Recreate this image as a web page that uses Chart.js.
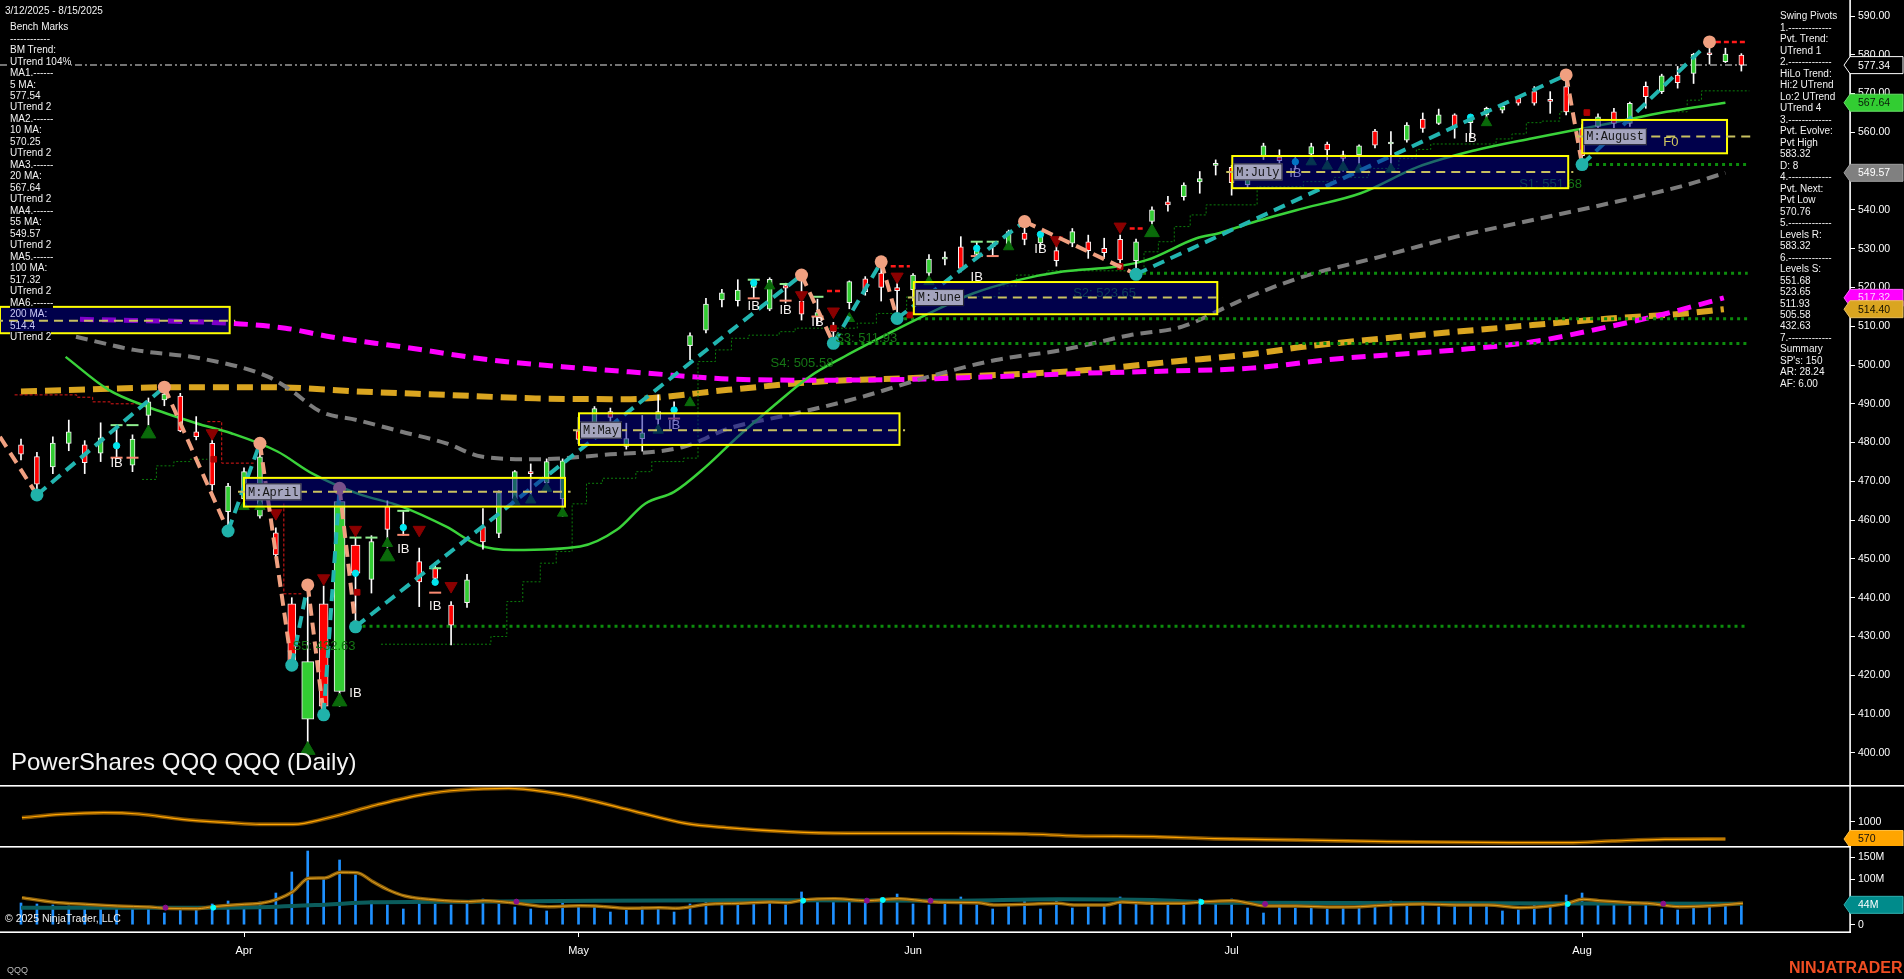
<!DOCTYPE html>
<html><head><meta charset="utf-8">
<script src="https://cdn.jsdelivr.net/npm/chart.js@4.4.1/dist/chart.umd.min.js"></script>
<style>
html,body{margin:0;padding:0;background:#000;width:1904px;height:979px;overflow:hidden;}
canvas{position:absolute;left:0;display:block;}
.pnl{position:absolute;font-family:Arial,"Liberation Sans",sans-serif;font-size:10px;line-height:11.48px;color:#f2f2f2;white-space:pre;}
.pnl div span{background:#000;}
.pnl div.inbox span{background:transparent;color:#c8c8f4;}
#title{position:absolute;left:11px;top:750px;font:24px/24px Arial,"Liberation Sans",sans-serif;color:#f4f4f4;white-space:pre;}
#copy{position:absolute;left:5px;top:912px;font:10.5px/12px Arial,"Liberation Sans",sans-serif;color:#f0f0f0;white-space:pre;}
#sym{position:absolute;left:7px;top:965px;font:9px/10px Arial,"Liberation Sans",sans-serif;color:#bdbdbd;}
#logo{position:absolute;left:1789px;top:960px;font:bold 16px/16px Arial,"Liberation Sans",sans-serif;color:#f04e23;white-space:pre;}
</style></head><body>
<canvas id="cp" width="1904" height="785" style="top:0;width:1904px;height:785px"></canvas>
<canvas id="co" width="1904" height="61" style="top:785px;width:1904px;height:61px"></canvas>
<canvas id="cv" width="1904" height="133" style="top:846px;width:1904px;height:133px"></canvas>
<div class="pnl" id="dateTitle" style="left:5px;top:5.4px"></div>
<div class="pnl" id="leftPanel" style="left:10px;top:21.1px"></div>
<div class="pnl" id="rightPanel" style="left:1780px;top:10.4px"></div>
<div id="title">PowerShares QQQ QQQ (Daily)</div>
<div id="copy">© 2025 NinjaTrader, LLC</div>
<div id="sym">QQQ</div>
<div id="logo">NINJATRADER</div>
<script>
// ---------------- DATA ----------------
const dates = ['2025-03-12','2025-03-13','2025-03-14','2025-03-17','2025-03-18','2025-03-19','2025-03-20','2025-03-21','2025-03-24','2025-03-25','2025-03-26','2025-03-27','2025-03-28','2025-03-31',
'2025-04-01','2025-04-02','2025-04-03','2025-04-04','2025-04-07','2025-04-08','2025-04-09','2025-04-10','2025-04-11','2025-04-14','2025-04-15','2025-04-16','2025-04-17','2025-04-21','2025-04-22','2025-04-23','2025-04-24','2025-04-25','2025-04-28','2025-04-29','2025-04-30',
'2025-05-01','2025-05-02','2025-05-05','2025-05-06','2025-05-07','2025-05-08','2025-05-09','2025-05-12','2025-05-13','2025-05-14','2025-05-15','2025-05-16','2025-05-19','2025-05-20','2025-05-21','2025-05-22','2025-05-23','2025-05-27','2025-05-28','2025-05-29','2025-05-30',
'2025-06-02','2025-06-03','2025-06-04','2025-06-05','2025-06-06','2025-06-09','2025-06-10','2025-06-11','2025-06-12','2025-06-13','2025-06-16','2025-06-17','2025-06-18','2025-06-20','2025-06-23','2025-06-24','2025-06-25','2025-06-26','2025-06-27','2025-06-30',
'2025-07-01','2025-07-02','2025-07-03','2025-07-07','2025-07-08','2025-07-09','2025-07-10','2025-07-11','2025-07-14','2025-07-15','2025-07-16','2025-07-17','2025-07-18','2025-07-21','2025-07-22','2025-07-23','2025-07-24','2025-07-25','2025-07-28','2025-07-29','2025-07-30','2025-07-31',
'2025-08-01','2025-08-04','2025-08-05','2025-08-06','2025-08-07','2025-08-08','2025-08-11','2025-08-12','2025-08-13','2025-08-14','2025-08-15'];

const opens  = [479.4,476.4,473.7,479.8,479.4,477.3,479.5,474.2,487.0,491.0,492.0,482.8,479.8,462.2,
465.5,461.0,456.7,438.4,408.7,438.4,415.8,453.6,444.7,463.5,458.5,449.3,447.7,438.1,438.7,458.3,456.6,465.5,472.5,469.6,465.5,
483.0,484.0,488.0,479.0,481.0,486.0,488.5,505.0,509.0,516.8,516.6,520.0,514.4,520.5,516.5,512.5,509.9,516.1,522.2,523.7,520.0,
519.4,523.7,527.3,530.5,528.5,530.5,530.9,534.0,531.5,529.5,531.4,531.8,530.1,532.4,526.9,537.0,542.1,543.4,547.2,551.5,
551.0,546.5,553.7,553.6,552.5,554.4,557.0,554.2,554.2,560.3,557.0,558.0,563.4,562.3,564.5,562.5,564.5,565.7,568.8,570.5,568.5,571.8,
561.0,561.5,565.3,562.3,571.9,570.5,574.8,575.2,580.4,578.2,579.9];
const highs  = [480.9,477.5,481.5,485.8,480.5,485.1,484.5,482.0,491.5,494.3,492.7,486.7,481.2,469.5,
473.5,479.5,458.0,440.0,443.3,443.0,468.2,455.7,456.0,465.0,462.2,452.8,449.0,439.0,446.0,463.0,467.6,472.8,474.5,475.8,475.8,
486.5,489.3,488.9,485.0,487.0,492.3,490.5,508.3,517.2,519.5,522.0,522.0,522.5,521.1,523.2,517.0,511.0,521.7,522.8,526.6,521.5,
523.6,528.5,529.2,533.1,531.8,531.8,534.8,537.0,534.5,531.8,535.2,533.5,532.7,533.5,532.5,540.8,543.5,547.0,549.9,552.9,
551.5,551.0,557.2,555.5,553.5,557.2,557.5,555.2,556.8,560.8,560.2,562.5,565.0,566.0,564.8,564.5,566.5,567.0,569.2,571.8,570.5,574.8,
562.0,564.8,566.2,567.8,573.0,575.0,577.0,580.4,583.3,581.7,580.3];
const lows   = [475.5,466.5,472.0,477.9,472.0,475.1,476.1,472.5,484.5,489.5,482.8,480.7,467.7,457.2,
464.5,460.5,449.5,422.6,402.4,409.8,412.0,432.5,441.2,453.0,456.1,437.7,443.8,427.8,437.5,452.5,455.5,464.0,466.0,468.6,461.0,
479.7,482.0,485.5,478.3,477.8,484.5,485.5,501.3,508.3,515.0,515.2,517.3,514.0,516.0,511.6,510.5,505.6,514.5,518.0,516.5,512.0,
516.5,522.8,525.8,524.0,528.1,528.1,530.0,531.0,530.0,525.5,530.5,527.5,527.5,525.5,523.4,536.0,539.7,542.5,544.3,549.0,
543.8,545.5,553.0,550.0,550.5,553.0,551.5,550.0,550.5,556.0,551.1,557.5,560.0,562.0,558.5,558.5,563.5,565.0,567.0,567.0,564.9,564.5,
551.7,557.5,559.5,561.5,566.2,570.0,571.4,572.6,577.6,578.0,575.8];
const closes = [477.0,469.3,479.9,482.8,474.8,481.2,478.8,480.9,490.5,492.5,483.0,481.5,469.1,468.8,
472.5,476.3,451.0,423.4,423.5,412.0,464.8,446.3,454.5,457.6,457.8,444.1,445.0,432.9,444.6,454.4,467.1,472.5,472.0,475.1,475.3,
480.8,488.8,486.5,481.0,482.5,488.0,488.3,507.6,515.7,518.6,519.3,521.2,522.1,519.8,513.1,513.5,508.6,521.5,518.9,520.0,519.2,
523.2,527.3,527.8,524.9,529.5,530.7,534.4,532.4,533.7,526.9,534.4,529.5,529.0,527.1,531.8,540.0,541.3,546.4,548.1,551.8,
547.0,550.8,556.5,552.7,552.3,556.3,555.5,553.3,556.5,556.7,557.5,561.9,561.0,564.5,561.5,563.8,566.2,566.7,567.5,567.5,568.0,565.3,
554.0,564.0,562.3,567.5,569.2,574.6,572.8,580.1,580.0,580.2,577.34];
// volume, millions
const volumes = [48.1,45.9,43.7,41.4,40.0,41.4,36.3,40.0,36.3,25.9,36.3,34.0,45.9,52.5,42.2,50.3,70.2,116.8,163.3,102.0,143.4,110.1,52.5,43.7,34.8,50.3,45.9,43.7,51.8,56.9,45.9,39.2,34.8,30.4,48.1,43.7,39.2,28.1,32.6,39.2,39.2,28.1,45.9,54.7,48.1,50.3,48.1,50.3,43.7,72.5,56.9,59.2,56.9,48.1,59.2,68.0,45.9,43.7,52.5,
61.4,43.7,34.8,41.4,54.7,34.8,56.9,37.0,43.7,43.7,61.4,50.3,45.9,48.1,45.9,56.9,45.9,56.9,37.0,25.9,45.9,37.0,43.7,34.8,39.2,37.0,43.7,52.5,41.4,50.3,39.2,43.7,41.4,43.7,30.4,32.6,45.9,41.4,65.8,70.2,48.1,48.1,41.4,45.9,34.8,32.6,43.7,41.4,45.9,44.0];

// moving averages (bar position, value)
const ma20Bars = [2.8,5.5,7.9,11,13.2,16.1,18.3,21.1,23.9,26.7,28.7,30.9,35.1,37.4,39.2,41,43,45,47.2,49.5,51.7,54.5,57,59.8,62.6,65.4,68.8,70.7,73.8,75.2,77.1,80.5,84.1,87.7,91.3,94.9,97.3,99.7,103.3,107];
const ma20Vals = [502.1,493.6,489.3,485,482.4,477.7,472,466.9,463.5,458.3,453.6,452.3,453.2,457.5,464.3,467.3,473.8,481.5,489.3,497,502.2,508.2,513.3,518.5,521.9,524.1,525.4,527.1,532.7,534,536.5,540.4,544.3,551.1,555.4,558.5,560.4,562.3,565.3,567.64];
const ma55Bars = [3.45,7.1,11.3,15.5,16.9,18.8,21.1,23.9,26.7,28.9,32.3,36.5,41.6,44.4,48.6,52.8,57,61.2,65.4,69.6,72.9,75.7,77.1,80.5,85.3,90.1,94.9,99.7,104.5,107];
const ma55Vals = [507.3,503.9,501.7,497,493.6,488,485.8,482.8,479.8,476.4,475.7,476.8,478.9,483.6,487.5,491.8,497,501.3,503.9,507.7,509.9,515,517.6,522.8,527.9,533.1,537.4,541.7,546.4,549.57];
const ma100Bars = [3.7,13.8,16.6,19.4,23.9,29.5,35.1,39.3,44.4,50,55.6,61.2,66.9,72.4,77.2,82.9,90.1,94.9,99.7,103.3,106.9];
const ma100Vals = [511.8,510.6,509.5,507.3,504.7,501.3,499.2,497.9,496.4,496.1,496.3,497,497.9,498.5,499.2,501.7,503.9,506,509.9,513.3,517.32];
const ma200Bars = [0,4.3,9.9,15.5,21.1,26.7,32.3,37.9,44.4,50,55.6,61.2,66.9,72.4,77.2,80.5,87.7,94.9,99.7,104.5,106.9];
const ma200Vals = [493.2,493.7,494.3,494.3,493.2,492.3,491.4,491.2,493.6,495.7,496.6,497.4,498.7,500.9,502.8,504.7,507.7,510.3,512,513.3,514.4];

// trailing step lines
const stepUp1Bars = [7.6,8.5,9.6,10.6,11.7];
const stepUp1Vals = [470.5,474,475.1,475.7,475.7];
const stepUp2Bars = [22.6,29.5,30.5,31.5,32.6,33.6,34.6,35.5,36.5,38.6,39.6,41.6,42.5,43.6,44.6,45.7,47.6,48.6,52.5,53.7,55.6,61.4,62.5,64.4,70.5,71.4,72.4,73.4,74.4,77.6,80.5,82.4,84.6,86.5,87.6,88.5,92.6,93.6,94.5,95.5,96.6,97.3];
const stepUp2Vals = [428,430,439,444.1,448.9,451.9,464.2,469.5,470.8,472.5,475.1,476,500.9,503.9,506.9,507.7,508.6,509.5,510.8,513.3,517.6,520.4,523.2,524.3,529.2,531.8,535.7,538.7,541.3,546,547.3,548.4,550.7,553.3,555.6,557,558.3,559.6,562.5,562.9,565.3,565.3];
const stepUp3Bars = [103.5,104.6,105.5,108.5];
const stepUp3Vals = [565.3,568.3,570.7,570.7];
const stepDnABars = [-0.4,3.5,4.5,5.6,7.5];
const stepDnAVals = [492.3,491.7,490.5,490.0,490.0];
const stepDnBBars = [11.7,12.6,14.6];
const stepDnBVals = [485.4,474.7,474.7];
const stepDnCBars = [16.5,16.5,17.6];
const stepDnCVals = [464.3,441,441];

// swing pivots
const zigStartBar = -1.32, zigStartPrice = 481.5;
const pivotBars   = [1,9,13,15,17,18,19,20,21,49,51,54,55,63,70,97,98,106];
const pivotPrices = [466.5,494.3,457.2,479.8,422.6,443.3,409.8,468.2,432.5,523.2,505.6,526.6,512.0,537.0,523.4,574.8,551.7,583.32];
const pivotKinds  = ['L','H','L','H','L','H','L','H','L','H','L','H','L','H','L','H','L','H'];
const pendingStart = [50.6,54.6,69.6,106.4];
const pendingEnd   = [51.6,55.8,70.5,108.4];
const pendingPrice = [519.1,525.5,535.2,583.32];

// support levels
const supportLevels    = [551.68,523.65,511.93,505.58,432.63];
const supportStartBars = [98,70,55,51,21];
const supportEndBar    = 108.4;

// markers
const ibBars   = [6,21,24,26,41,46,48,50,60,64,80,91];
const ibPrices = [474.7,415.4,452.5,437.7,484.5,515.2,514.2,510.9,522.6,529.8,549.4,558.5];
const dotBars   = [6,21,24,26,41,46,60,64,80,91];
const dotPrices = [479.2,446.3,458.1,444,488.4,521.2,530.1,533.7,552.4,563.9];
const hiTickBars   = [6,7,21,22,24,26,46,48,50,60,61];
const hiTickPrices = [484.5,484.5,455.5,455.5,462.4,447.6,522,520.9,517.6,531.8,531.8];
const loTickBars   = [6,7,24,26,41,46,48,50,60,61];
const loTickPrices = [476.1,476.1,456.2,441.3,486.2,517.2,516.6,512.5,528.1,528.1];
const bigUpBars   = [8,18,20,23,71];
const bigUpPrices = [482.3,400.7,413.2,450.6,534.2];
const upBars   = [14,15,23,31,32,33,34,40,42,47,52,57,62,81,82,83,84,86,92];
const upPrices = [463.5,463.5,454,464.8,465.2,468.2,461.8,483.2,490.3,520.4,512,521.5,530.5,552.4,551.3,551,550.5,550.5,562.5];
const downBars   = [12,16,19,21,25,27,49,51,55,65,69];
const downPrices = [482.4,461.8,445,457.5,457.5,443,518,513.8,522.8,532.2,535.7];
const blockBars   = [12.1,21.1,51,55.8,69,98.3];
const blockPrices = [475.7,441.4,509.5,512.9,525.4,565.1];

// monthly boxes
const monthNames      = ['', 'M:April','M:May','M:June','M:July','M:August'];
const monthBoxStart   = [-1.32,14,35.03,56.05,76.04,98.01];
const monthBoxEnd     = [13.1,34.15,55.15,75.1,97.13,107.1];
const monthMidEnd     = [13.45,34.5,55.5,75.45,97.45,108.6];
const monthBoxTop     = [515.0,470.9,487.55,521.4,553.9,563.2];
const monthBoxBottom  = [508.2,463.5,479.4,513.1,545.6,554.6];
const monthBoxMid     = [511.4,467.3,483.2,517.4,549.8,558.9];
const fLabelBar = 103.1, fLabelPrice = 557.4;

// last price line and axis markers
const lastPrice = 577.34;
const priceMarkValues = [577.34,567.64,549.57,517.32,514.40];
const oscMarkValue = 570;
const volMarkValue = 44;

// oscillator (upper lower panel)
const oscBars = [0.06,2.5,5.2,7.4,10.1,13.1,15,17.1,19.2,22.3,25.3,27.6,30.6,32.9,35.2,38.6,41.7,44.3,48.1,51.9,58.3,63.1,66.3,71.1,74.9,80.1,85.8,93.5,97.1,99.9,103.2,107];
const oscVals = [1099,1184,1224,1191,1060,975,935,935,1085,1415,1681,1788,1830,1746,1582,1249,960,851,751,712,712,694,645,627,577,545,503,478,478,520,562,570];

// volume averages
const volAvgFastBars = [0.06,2.07,4.05,6.06,8.08,9.07,11.1,12.07,14.05,15.04,16.07,17.06,18.08,19.07,20.06,21.09,22.08,23.07,24.1,26.07,28.09,29.08,31.1,33.07,35.1,36.08,38.1,40.11,41.1,43.08,45.1,47.08,48.1,49.09,51.1,53.08,55.1,57.1,58.1,60.05,61.07,63.1,65.1,66.1,68.1,69.1,71.07,73.08,74.1,76.09,77.1,78.1,80.1,82.1,84.1,86.1,88.1,90.1,92.1,94.1,96.1,97.07,98.07,99.07,101.1,102.1,104.1,106.1,108.1];
const volAvgFastVals = [59.9,49.6,45.2,41.4,39.2,36.3,35.5,40.0,45.2,47.4,56.3,73.2,102.7,103.5,116.1,115.3,95.4,76.9,63.6,54.8,51.1,53.3,47.4,40.0,42.2,41.4,36.3,37.8,36.3,45.2,47.4,50.3,48.8,54.8,57.7,53.3,57.7,51.1,49.6,48.8,43.7,45.2,47.4,43.7,43.7,50.3,47.4,47.4,50.3,53.3,47.4,41.4,41.4,39.2,40.0,44.4,45.9,43.7,43.7,37.8,42.2,47.4,56.3,53.3,48.8,47.4,40.0,42.2,47.4];
const volAvgSlowBars = [0,12.07,16.07,19.07,22.08,28.09,36.08,48.1,58.1,65.1,71.07,75.1,108.1];
const volAvgSlowVals = [37.8,37.8,40.0,44.4,49.6,51.1,53.3,54.0,53.3,56.3,54.8,48.8,46.6];
const volPurpleBars = [9.07,31.1,53.1,57.1,78.1,103.1];
const volPurpleVals = [37.8,51.1,53.3,53.3,45.9,46.6];
const volCyanBars = [12.07,49.1,54.1,74.1,97.1];
const volCyanVals = [37.8,53.3,54.8,50.3,45.9];

// axis ticks
const priceTicks = [400,410,420,430,440,450,460,470,480,490,500,510,520,530,540,550,560,570,580,590];
const oscTicks = [1000];
const volTicks = [0,50,100,150];
const volTickLabels = ['0','50M','100M','150M'];
const monthTickDates = ['2025-04-01','2025-05-01','2025-06-02','2025-07-01','2025-08-01'];
const monthTickLabels = ['Apr','May','Jun','Jul','Aug'];

// text panels
const dateRange = '3/12/2025 - 8/15/2025';
const leftLines = ['Bench Marks','------------','BM Trend:','UTrend 104%','MA1.------','5 MA:','577.54','UTrend 2','MA2.------','10 MA:','570.25','UTrend 2','MA3.------','20 MA:','567.64','UTrend 2','MA4.------','55 MA:','549.57','UTrend 2','MA5.------','100 MA:','517.32','UTrend 2','MA6.------','200 MA:','514.4','UTrend 2'];
const rightLines = ['Swing Pivots','1.-------------','Pvt. Trend:','UTrend 1','2.-------------','HiLo Trend:','Hi:2 UTrend','Lo:2 UTrend','UTrend 4','3.-------------','Pvt. Evolve:','Pvt High','583.32','D: 8','4.-------------','Pvt. Next:','Pvt Low','570.76','5.-------------','Levels R:','583.32','6.-------------','Levels S:','551.68','523.65','511.93','505.58','432.63','7.-------------','Summary',"SP's: 150",'AR: 28.24','AF: 6.00'];

// ---------------- LAYOUT / STYLE ----------------
const X_MIN = -1.318, X_MAX = 114.82;
const UP = '#32cd32', DOWN = '#ff0000';
const wideBody = {17:8, 18:12, 19:9, 20:11, 21:9};
const FONT = 'Arial, "Liberation Sans", sans-serif';

function fillPanel(id, lines, inBox){
  const el = document.getElementById(id);
  lines.forEach((t,i)=>{ const d=document.createElement('div'); if(inBox && inBox.includes(i)) d.className='inbox'; const s=document.createElement('span'); s.textContent=t; d.appendChild(s); el.appendChild(d); });
}
fillPanel('dateTitle',[dateRange]);
fillPanel('leftPanel',leftLines,[25,26]);
fillPanel('rightPanel',rightLines);

const pts = (bx, vy) => bx.map((b,i)=>({x:b, y:vy[i]}));
const idx = dates.map((d,i)=>i);

function rightAxis(min,max,ticks,fmt){
  return {position:'right', min, max,
    afterFit(s){ s.width=54; s.paddingTop=0; s.paddingBottom=0; },
    afterBuildTicks(s){ s.ticks = ticks.map(v=>({value:v})); },
    ticks:{color:'#ffffff', font:{family:FONT,size:10.5}, padding:3, autoSkip:false, callback:(v,i)=>fmt(v,i)},
    grid:{drawOnChartArea:false, drawTicks:true, tickLength:5, tickColor:'#ffffff', tickWidth:1, offset:false},
    border:{display:false}};
}
const hiddenX = {type:'linear', min:X_MIN, max:X_MAX, offset:false, display:false, grid:{offset:false}};
const baseOpts = {responsive:false, devicePixelRatio:1, animation:false, events:[], layout:{padding:0, autoPadding:false},
  plugins:{legend:{display:false}, tooltip:{enabled:false}}};

function lineDS(data, color, width, dash, order, extra){
  return Object.assign({type:'line', data, borderColor:color, borderWidth:width, borderDash:dash||[], pointRadius:0, fill:false, order, cubicInterpolationMode:'monotone'}, extra||{});
}
function scatterDS(data, color, style, radius, order, extra){
  return Object.assign({type:'scatter', data, backgroundColor:color, borderColor:color, pointStyle:style, pointRadius:radius, borderWidth:1, order}, extra||{});
}

// ---------------- PRICE CHART ----------------
const priceDatasets = [];
priceDatasets.push(lineDS([{x:X_MIN,y:lastPrice},{x:108.5,y:lastPrice}], '#9a9a9a', 1.5, [7,3,2,3], 31));
priceDatasets.push(lineDS(pts(ma200Bars,ma200Vals), '#daa520', 6, [16,8], 30));
priceDatasets.push(lineDS(pts(ma100Bars,ma100Vals), '#ff00ff', 5, [14,8], 29));
priceDatasets.push(lineDS(pts(ma55Bars,ma55Vals), '#7c7c7c', 4, [12,7], 28));
supportLevels.forEach((lv,i)=>{
  priceDatasets.push(lineDS([{x:supportStartBars[i],y:lv},{x:supportEndBar,y:lv}], '#0c8c0c', 3, [3,4], 27));
});
[[stepUp1Bars,stepUp1Vals],[stepUp2Bars,stepUp2Vals],[stepUp3Bars,stepUp3Vals]].forEach(([b,v])=>{
  priceDatasets.push(lineDS(pts(b,v), '#0b7d0b', 1, [2,2], 26, {stepped:'before'}));
});
[[stepDnABars,stepDnAVals],[stepDnBBars,stepDnBVals],[stepDnCBars,stepDnCVals]].forEach(([b,v])=>{
  priceDatasets.push(lineDS(pts(b,v), '#e01818', 1, [3,2], 26, {stepped:'before'}));
});
priceDatasets.push(lineDS(pts(ma20Bars,ma20Vals), '#3ad23a', 2.5, [], 25));
// candles
priceDatasets.push({type:'bar', data: idx.map(i=>({x:i, y:[lows[i],highs[i]]})), backgroundColor:'#ffffff', borderWidth:0, barThickness:1, grouped:false, order:21});
const bodyGroups = {};
idx.forEach(i=>{ const w = wideBody[i] || 5; (bodyGroups[w] = bodyGroups[w] || []).push(i); });
Object.keys(bodyGroups).forEach(w=>{
  const list = bodyGroups[w];
  priceDatasets.push({type:'bar', data: list.map(i=>({x:i, y:[Math.min(opens[i],closes[i]), Math.max(opens[i],closes[i])], up: closes[i]>=opens[i]})),
    backgroundColor: c => (c.raw && c.raw.up) ? UP : DOWN, borderColor:'#f4f4f4', borderWidth:1, borderSkipped:false,
    barThickness:+w, minBarLength:2, grouped:false, order:20});
});
priceDatasets.push(scatterDS(pts(hiTickBars,hiTickPrices), '#90ee90', 'line', 6, 16, {borderWidth:2}));
priceDatasets.push(scatterDS(pts(loTickBars,loTickPrices), '#fa8a72', 'line', 6, 16, {borderWidth:2}));
priceDatasets.push(scatterDS(pts(dotBars,dotPrices), '#00e5ee', 'circle', 3.2, 15));
priceDatasets.push(scatterDS(pts(upBars,upPrices), '#0a6a0a', 'triangle', 6, 14));
priceDatasets.push(scatterDS(pts(bigUpBars,bigUpPrices), '#0a6a0a', 'triangle', 8.5, 14));
priceDatasets.push(scatterDS(pts(downBars,downPrices), '#8b0000', 'triangle', 7, 14, {rotation:180}));
priceDatasets.push(scatterDS(pts(blockBars,blockPrices), '#b00000', 'rect', 4, 14));
pendingStart.forEach((s,i)=>{
  priceDatasets.push(lineDS([{x:s,y:pendingPrice[i]},{x:pendingEnd[i],y:pendingPrice[i]}], '#ff1a1a', 2.5, [5,3], 12));
});
const zig = [{x:zigStartBar,y:zigStartPrice}].concat(pts(pivotBars,pivotPrices));
priceDatasets.push(lineDS(zig, '#22b5b0', 4, [12,7], 10, {cubicInterpolationMode:'default', tension:0,
  segment:{borderColor: c => c.p1.parsed.y > c.p0.parsed.y ? '#22b5b0' : '#f0a080'}}));
priceDatasets.push({type:'scatter', data: pts(pivotBars,pivotPrices), pointRadius:6.5, pointStyle:'circle', borderWidth:0,
  backgroundColor: c => pivotKinds[c.dataIndex]==='H' ? '#f0a080' : '#20b2aa', order:9});

function drawMarker(ctx, yc, value, bg, fg, bd){
  ctx.save();
  ctx.beginPath();
  ctx.moveTo(1844, yc); ctx.lineTo(1850, yc-8.5); ctx.lineTo(1903, yc-8.5); ctx.lineTo(1903, yc+8.5); ctx.lineTo(1850, yc+8.5); ctx.closePath();
  ctx.fillStyle = bg; ctx.fill();
  ctx.strokeStyle = bd; ctx.lineWidth = 1; ctx.stroke();
  ctx.fillStyle = fg; ctx.font = '10.5px '+FONT; ctx.textAlign='left'; ctx.textBaseline='middle';
  ctx.fillText(value, 1858, yc+0.5);
  ctx.restore();
}

const priceAnnot = {
  id:'priceAnnot',
  afterDatasetsDraw(chart){
    const ctx = chart.ctx, xs = chart.scales.x, ys = chart.scales.y, a = chart.chartArea;
    const px = v => xs.getPixelForValue(v), py = v => ys.getPixelForValue(v);
    ctx.save();
    ctx.beginPath(); ctx.rect(a.left, a.top, a.right-a.left, a.bottom-a.top); ctx.clip();
    ctx.font = '13px '+FONT; ctx.fillStyle = '#157515'; ctx.textAlign='right'; ctx.textBaseline='middle';
    supportLevels.forEach((lv,i)=> ctx.fillText('S'+(i+1)+': '+lv.toFixed(2), px(supportStartBars[i]), py(lv)+20));
    ctx.font = '13px '+FONT; ctx.fillStyle = '#f6f2f0'; ctx.textAlign='center';
    ibBars.forEach((b,i)=> ctx.fillText('IB', px(b), py(ibPrices[i])));
    monthBoxStart.forEach((s,i)=>{
      const x0=px(s), x1=px(monthBoxEnd[i]), y0=py(monthBoxTop[i]), y1=py(monthBoxBottom[i]);
      ctx.fillStyle='rgba(0,0,150,0.5)'; ctx.fillRect(x0,y0,x1-x0,y1-y0);
      ctx.strokeStyle='#ffff00'; ctx.lineWidth=2; ctx.setLineDash([]); ctx.strokeRect(x0,y0,x1-x0,y1-y0);
      ctx.strokeStyle='#c8c060'; ctx.lineWidth=2; ctx.setLineDash([9,6]);
      ctx.beginPath(); ctx.moveTo(x0-6, py(monthBoxMid[i])); ctx.lineTo(px(monthMidEnd[i]), py(monthBoxMid[i])); ctx.stroke();
      ctx.setLineDash([]);
      if (monthNames[i]) {
        ctx.font = '12px "Liberation Mono","Courier New",monospace';
        const tw = ctx.measureText(monthNames[i]).width, ym = py(monthBoxMid[i]);
        ctx.fillStyle='#a4a4be'; ctx.fillRect(x0+1, ym-8.5, tw+6, 17);
        ctx.strokeStyle='#202030'; ctx.lineWidth=1; ctx.strokeRect(x0+1.5, ym-8, tw+5, 16);
        ctx.fillStyle='#161616'; ctx.textAlign='left'; ctx.textBaseline='middle'; ctx.fillText(monthNames[i], x0+4, ym+0.5);
      }
    });
    ctx.font = '13px '+FONT; ctx.fillStyle='#d0c860'; ctx.textAlign='left'; ctx.textBaseline='middle';
    ctx.fillText('F0', px(fLabelBar), py(fLabelPrice));
    ctx.restore();
  },
  afterDraw(chart){
    const ctx = chart.ctx, ys = chart.scales.y;
    ctx.save();
    ctx.fillStyle='#ffffff'; ctx.fillRect(1849.3, 0, 1.6, 785);
    ctx.restore();
    const st = [['#000000','#ffffff','#ffffff'],['#32cd32','#0a1a0a','#6ae06a'],['#808080','#ffffff','#a0a0a0'],['#ff00ff','#ffd0ff','#ff60ff'],['#daa520','#141000','#e8c060']];
    priceMarkValues.forEach((v,i)=> drawMarker(ctx, ys.getPixelForValue(v), v.toFixed(2), st[i][0], st[i][1], st[i][2]));
  }
};

new Chart(document.getElementById('cp'), {
  type:'bar',
  data:{datasets:priceDatasets},
  options:Object.assign({}, baseOpts, {
    scales:{ x: hiddenX, y: rightAxis(391.7, 594.13, priceTicks, v=>v.toFixed(2)) }
  }),
  plugins:[priceAnnot]
});

// ---------------- OSCILLATOR ----------------
new Chart(document.getElementById('co'), {
  type:'line',
  data:{datasets:[
    lineDS(pts(oscBars,oscVals), '#7a4c00', 4, [], 2),
    lineDS(pts(oscBars,oscVals), '#ffa500', 1.2, [], 1)
  ]},
  options:Object.assign({}, baseOpts, {
    scales:{ x: hiddenX, y: rightAxis(395.9, 1912.4, oscTicks, v=>String(v)) }
  }),
  plugins:[{id:'oscDeco', afterDraw(chart){
    const ctx=chart.ctx; ctx.save(); ctx.fillStyle='#ffffff';
    ctx.fillRect(0,0,1904,1.6); ctx.fillRect(1849.3,0,1.6,61); ctx.restore();
    drawMarker(ctx, chart.scales.y.getPixelForValue(oscMarkValue), String(oscMarkValue), '#ffa500', '#111111', '#ffc040');
  }}]
});

// ---------------- VOLUME ----------------
const monthTickIdx = monthTickDates.map(d=>dates.indexOf(d));
new Chart(document.getElementById('cv'), {
  type:'bar',
  data:{datasets:[
    {type:'bar', data: idx.map(i=>({x:i, y:volumes[i]})), backgroundColor:'#1e90ff', barThickness:2, grouped:false, order:5},
    lineDS(pts(volAvgSlowBars,volAvgSlowVals), '#0b5c5c', 4, [], 4),
    lineDS(pts(volAvgFastBars,volAvgFastVals), '#8b5e08', 3.5, [], 3),
    lineDS(pts(volAvgFastBars,volAvgFastVals), '#e0a020', 1, [], 2),
    scatterDS(pts(volPurpleBars,volPurpleVals), '#8a108a', 'circle', 2.5, 1),
    scatterDS(pts(volCyanBars,volCyanVals), '#00ffff', 'circle', 2.5, 1)
  ]},
  options:Object.assign({}, baseOpts, {
    scales:{
      x:{type:'linear', min:X_MIN, max:X_MAX, offset:false, position:'bottom',
        afterFit(s){ s.height=47; s.paddingLeft=0; s.paddingRight=0; },
        afterBuildTicks(s){ s.ticks = monthTickIdx.map(v=>({value:v})); },
        ticks:{color:'#ffffff', font:{family:FONT,size:11}, padding:7, maxRotation:0, autoSkip:false, callback:(v,i)=>monthTickLabels[i]},
        grid:{drawOnChartArea:false, drawTicks:true, tickLength:5, tickColor:'#ffffff', offset:false}, border:{display:false}},
      y: rightAxis(-16.2, 174.4, volTicks, (v,i)=>volTickLabels[i])
    }
  }),
  plugins:[{id:'volDeco', afterDraw(chart){
    const ctx=chart.ctx; ctx.save(); ctx.fillStyle='#ffffff';
    ctx.fillRect(0,0,1850.9,1.6); ctx.fillRect(0,85.4,1850.9,1.6); ctx.fillRect(1849.3,0,1.6,87); ctx.restore();
    drawMarker(ctx, chart.scales.y.getPixelForValue(volMarkValue), volMarkValue+'M', '#008b8b', '#ffffff', '#30b0b0');
  }}]
});
</script>
</body></html>
